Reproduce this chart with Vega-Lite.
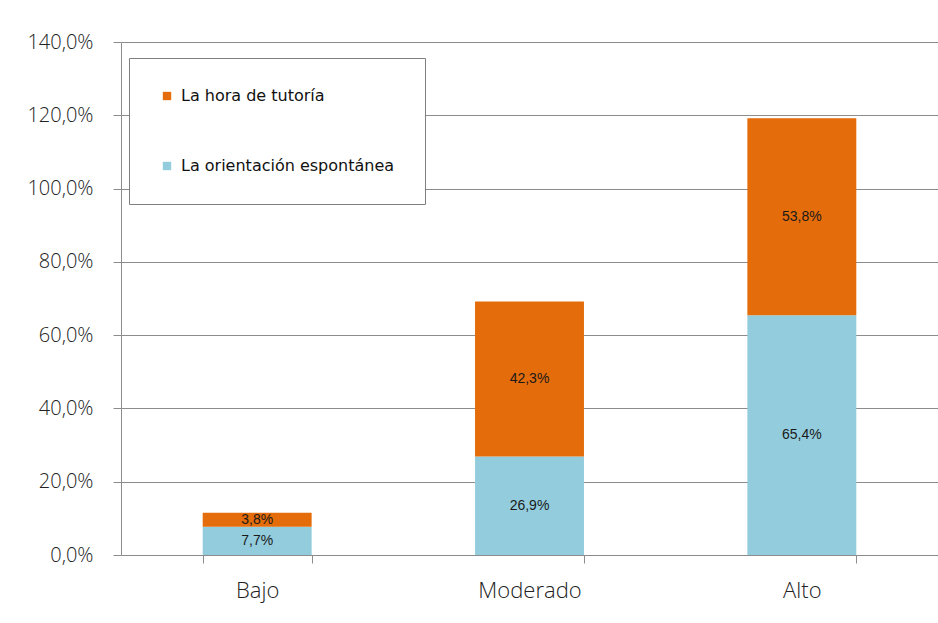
{
  "$schema": "https://vega.github.io/schema/vega-lite/v6.json",
  "autosize": "none",
  "width": 817,
  "height": 513,
  "padding": {"left": 121, "top": 42, "right": 0, "bottom": 68},
  "background": "white",
  "data": {
    "values": [
      {"nivel": "Bajo", "serie": "La orientación espontánea", "valor": 0.077},
      {"nivel": "Bajo", "serie": "La hora de tutoría", "valor": 0.038},
      {"nivel": "Moderado", "serie": "La orientación espontánea", "valor": 0.269},
      {"nivel": "Moderado", "serie": "La hora de tutoría", "valor": 0.423},
      {"nivel": "Alto", "serie": "La orientación espontánea", "valor": 0.654},
      {"nivel": "Alto", "serie": "La hora de tutoría", "valor": 0.538}
    ]
  },
  "config": {
    "locale": {"number": {"decimal": ",", "thousands": ".", "grouping": [3], "currency": ["", " €"]}},
    "view": {"stroke": null},
    "font": "DejaVu Sans"
  },
  "layer": [
    {
      "mark": {"type": "bar"},
      "encoding": {
        "x": {
          "field": "nivel", "type": "nominal", "sort": ["Bajo", "Moderado", "Alto"],
          "scale": {"paddingInner": 0.6, "paddingOuter": 0.3},
          "axis": {
            "title": null, "labelAngle": 0, "tickBand": "extent", "grid": false,
            "domain": true, "domainColor": "#8c8c8c", "tickColor": "#8c8c8c", "tickSize": 8,
            "labelFont": "Open Sans", "labelFontSize": 22, "labelFontWeight": 300, "labelColor": "#222", "labelPadding": 17
          }
        },
        "y": {
          "field": "valor", "type": "quantitative", "stack": "zero",
          "scale": {"domain": [0, 1.4], "nice": false},
          "axis": {
            "title": null, "format": ".1%", "values": [0, 0.2, 0.4, 0.6, 0.8, 1.0, 1.2, 1.4],
            "grid": true, "gridColor": "#8c8c8c", "gridWidth": 1,
            "domain": true, "domainColor": "#8c8c8c", "tickColor": "#8c8c8c", "tickSize": 8,
            "labelFont": "Open Sans", "labelFontSize": 20, "labelFontWeight": 300, "labelColor": "#222", "labelPadding": 20
          }
        },
        "color": {
          "field": "serie", "type": "nominal",
          "scale": {"domain": ["La hora de tutoría", "La orientación espontánea"], "range": ["#E46C0A", "#93CDDD"]},
          "legend": {
            "title": null, "orient": "none", "legendX": 8, "legendY": 16,
            "fillColor": "white", "strokeColor": "#7f7f7f", "padding": 30, "rowPadding": 54,
            "symbolType": "square", "symbolSize": 70, "symbolStrokeWidth": 0, "labelLimit": 0,
            "labelFont": "DejaVu Sans", "labelFontSize": 16, "labelColor": "#111", "labelOffset": 6
          }
        },
        "order": {"field": "serie", "sort": "descending"}
      }
    },
    {
      "transform": [
        {"stack": "valor", "groupby": ["nivel"], "sort": [{"field": "serie", "order": "descending"}], "as": ["v0", "v1"]},
        {"calculate": "(datum.v0 + datum.v1) / 2", "as": "medio"}
      ],
      "mark": {"type": "text", "font": "Liberation Sans", "fontSize": 14, "color": "#1a1a1a", "baseline": "middle"},
      "encoding": {
        "x": {"field": "nivel", "type": "nominal", "sort": ["Bajo", "Moderado", "Alto"]},
        "y": {"field": "medio", "type": "quantitative"},
        "text": {"field": "valor", "type": "quantitative", "format": ".1%"}
      }
    }
  ]
}
